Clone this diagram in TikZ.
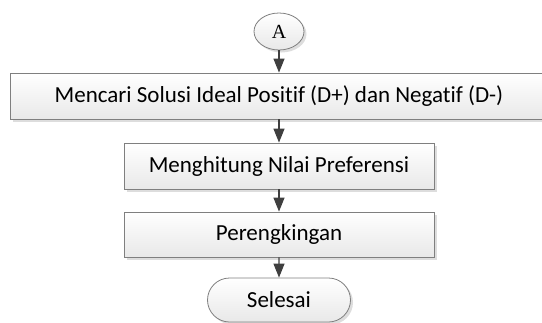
\documentclass[tikz,border=0pt]{standalone}
\usepackage{fontspec}
\setmainfont{Carlito}[Ligatures={NoCommon,NoRequired,NoContextual}]
\newfontfamily\serifA{Liberation Serif}
\usetikzlibrary{shapes.geometric,shapes.misc,shadows,arrows.meta}
\definecolor{edgec}{HTML}{7F7F7F}
\definecolor{arrc}{HTML}{3F3F3F}
\tikzset{
  x=1pt, y=1pt,
  shadowed/.style={drop shadow={shadow xshift=2.5pt, shadow yshift=-2.5pt, fill=black!22, opacity=0.6}},
  procbox/.style={draw=edgec, line width=0.8pt, top color=white, bottom color=black!9, shadowed,
    rectangle, inner sep=0pt, font=\fontsize{23}{27}\selectfont, text=black},
  termnode/.style={draw=edgec, line width=0.8pt, top color=white, bottom color=black!9, shadowed,
    rounded rectangle, inner sep=0pt, font=\fontsize{23}{27}\selectfont, text=black},
  connnode/.style={draw=edgec, line width=0.8pt, top color=white, bottom color=black!9, shadowed,
    ellipse, inner sep=0pt, font=\serifA\fontsize{20}{22}\selectfont},
  flowarrow/.style={draw=arrc, line width=1.2pt, -{Triangle[length=14pt,width=11pt]}}
}
\begin{document}
\begin{tikzpicture}
\useasboundingbox (0,0) rectangle (542,-322);
\node[connnode, minimum width=50pt, minimum height=37pt] (a) at (279,-31.5) {A};
\node[procbox, minimum width=538pt, minimum height=46pt] (b1) at (279,-96) {Mencari Solusi Ideal Positif (D+) dan Negatif (D-)};
\node[procbox, minimum width=310pt, minimum height=46pt] (b2) at (279,-166) {Menghitung Nilai Preferensi};
\node[procbox, minimum width=310pt, minimum height=45pt] (b3) at (279,-234.5) {Perengkingan};
\node[termnode, minimum width=143pt, minimum height=44pt] (s) at (279,-300) {Selesai};
\draw[flowarrow] (a) -- (b1);
\draw[flowarrow] (b1) -- (b2);
\draw[flowarrow] (b2) -- (b3);
\draw[flowarrow] (b3) -- (s);
\end{tikzpicture}
\end{document}
